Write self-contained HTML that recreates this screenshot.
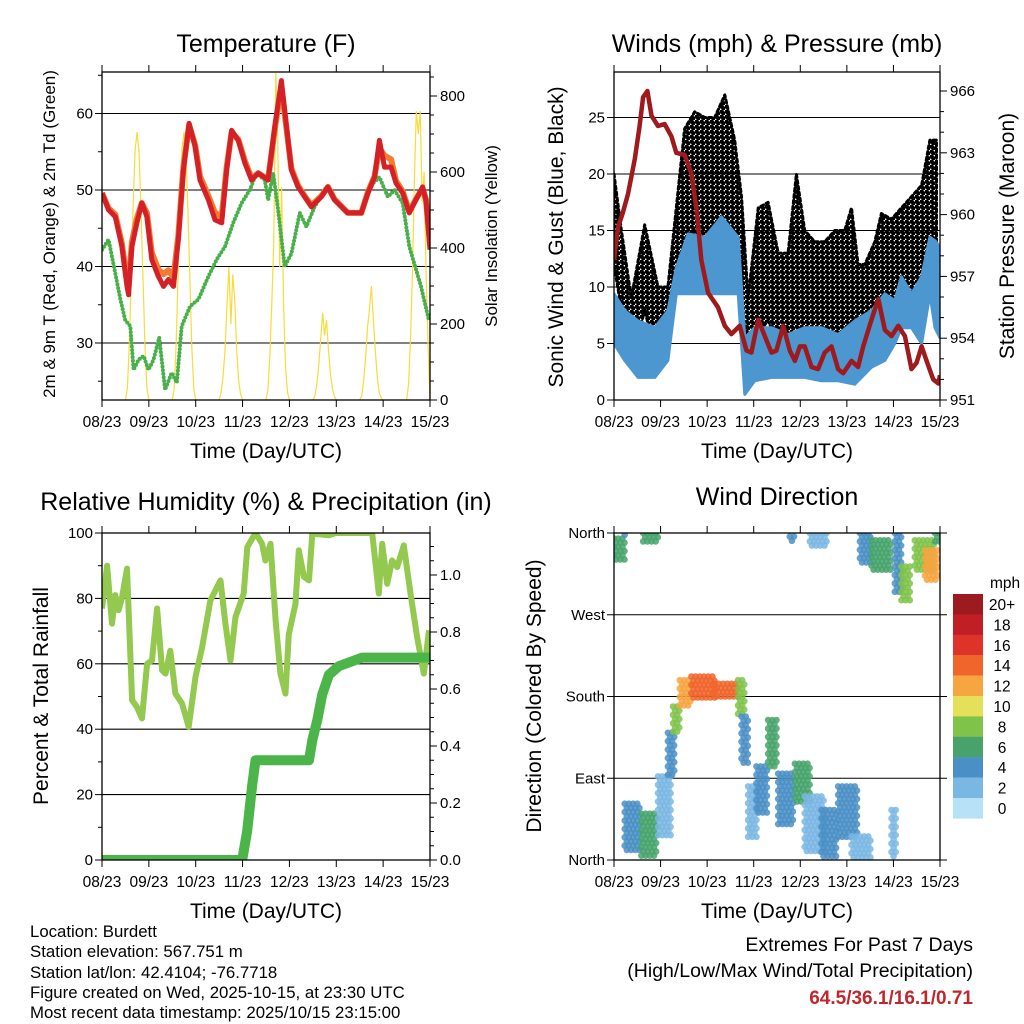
<!DOCTYPE html>
<html><head><meta charset="utf-8"><style>
body{margin:0;background:#fff;}
svg{display:block;font-family:"Liberation Sans",Arial,sans-serif;}
</style></head><body>
<svg id="chart" width="1024" height="1024" viewBox="0 0 1024 1024" xmlns="http://www.w3.org/2000/svg">
<defs>
<pattern id="gustdots" width="5" height="5" patternUnits="userSpaceOnUse">
<circle cx="1.25" cy="1.25" r="2.5" fill="#000"/>
<circle cx="3.75" cy="3.75" r="2.5" fill="#000"/>
</pattern>
</defs>
<rect width="1024" height="1024" fill="#fff"/>
<text x="266" y="52" font-size="25" text-anchor="middle">Temperature (F)</text>
<text x="777" y="52" font-size="25" text-anchor="middle">Winds (mph) &amp; Pressure (mb)</text>
<text x="266" y="510" font-size="25" text-anchor="middle">Relative Humidity (%) &amp; Precipitation (in)</text>
<text x="777" y="505" font-size="25" text-anchor="middle">Wind Direction</text>
<text x="266" y="458" font-size="21" text-anchor="middle">Time (Day/UTC)</text>
<text x="777" y="458" font-size="21" text-anchor="middle">Time (Day/UTC)</text>
<text x="266" y="918" font-size="21" text-anchor="middle">Time (Day/UTC)</text>
<text x="777" y="918" font-size="21" text-anchor="middle">Time (Day/UTC)</text>
<text transform="translate(55,234) rotate(-90)" font-size="17" text-anchor="middle">2m &amp; 9m T (Red, Orange) &amp; 2m Td (Green)</text>
<text transform="translate(497,236) rotate(-90)" font-size="17" text-anchor="middle">Solar Insolation (Yellow)</text>
<text transform="translate(563,237) rotate(-90)" font-size="21" text-anchor="middle">Sonic Wind &amp; Gust (Blue, Black)</text>
<text transform="translate(1014,236) rotate(-90)" font-size="21" text-anchor="middle">Station Pressure (Maroon)</text>
<text transform="translate(48,696) rotate(-90)" font-size="21" text-anchor="middle">Percent &amp; Total Rainfall</text>
<text transform="translate(541,696) rotate(-90)" font-size="21" text-anchor="middle">Direction (Colored By Speed)</text>
<g font-size="16.8">
<text x="30" y="937">Location: Burdett</text>
<text x="30" y="957">Station elevation: 567.751 m</text>
<text x="30" y="978">Station lat/lon: 42.4104; -76.7718</text>
<text x="30" y="998">Figure created on Wed, 2025-10-15, at 23:30 UTC</text>
<text x="30" y="1018">Most recent data timestamp: 2025/10/15 23:15:00</text>
</g>
<g font-size="19.5" text-anchor="end">
<text x="973" y="951">Extremes For Past 7 Days</text>
<text x="973" y="977">(High/Low/Max Wind/Total Precipitation)</text>
<text x="973" y="1004" fill="#c0272d" font-weight="bold" font-size="19">64.5/36.1/16.1/0.71</text>
</g>
</svg>
<script>
// ---------- DATA ----------
const xTickLabels = ["08/23","09/23","10/23","11/23","12/23","13/23","14/23","15/23"];
// Temperature panel
const tempHours = [0,3.4,6.8,10.2,12.8,13.6,15.3,17.9,20.4,23,25.5,28.9,31.5,34,36.6,39.1,41.7,44.6,47.7,50.2,54.5,57.9,61.3,63.8,66.4,69.8,73.2,76.6,80,85.1,88.5,91.9,94.5,97,100.4,103.8,107.2,112.3,115.7,119.1,125.9,132.8,136.2,139.6,142.1,144.7,148.1,150.6,154,157.4,160.8,164.2,165.9,168];
const temp2m = [49.6,47.4,46.5,42.6,37.4,36.3,42.6,45.7,48.3,46.5,40.9,38.7,37.4,38.3,37.4,43.5,52.6,58.7,55.7,51.3,48.7,46.1,45.7,52.6,57.8,56.5,53.5,51.3,52.2,51.3,58.3,64.3,58.3,52.6,50.4,49.1,47.8,49.1,50.4,48.7,47,47,49.6,51.7,56.5,53,53,50.9,49.6,47,48.7,50.4,48.7,42.2];
const temp9m = [49.6,47.6,46.8,43,38,37.6,43.2,46.3,48.3,47,41.8,39.6,39,39.5,38.6,44,53,58.5,55.9,51.8,49.2,47,46.5,52.9,57.5,56.6,53.8,51.5,52.2,51.4,58,63.5,58,52.8,50.6,49.2,48,49.2,50.4,48.8,47,47,49.7,51.8,55.5,54.5,54,51.2,49.8,47.2,48.8,50.2,48.8,43];
const dewHours = [0,3.4,6.8,9.4,11.9,14.5,16.2,18.7,21.3,23.8,26.4,29.3,32.3,35.7,38.3,40.8,45.1,49.4,54.5,58.7,63,67.2,71.5,75.7,79.1,83.4,85.1,87.7,90.2,93.6,97,101.3,104.7,108.9,114.9,119.1,125.9,132.8,137,142.1,146.4,149.8,154,157.4,163.4,167.6];
const dewpoint = [42.2,43.5,39.1,35.7,33,32.2,26.5,27.8,28.3,26.5,27.8,30.7,23.9,26.1,24.8,32.2,34.8,35.7,38.7,40.9,42.6,45.7,48.3,50,52.2,51.3,48.7,52.2,47.4,40,41.7,47,45.2,47.8,50.4,48.7,47,47,50.4,51.7,49.1,50,48.3,42.6,37.4,32.8];
const solarStartHour = 12; // first hourly value of each day
const solarDay0 = [0,30,150,330,520,660,705,650,500,320,140,30,0];
const solarDay1 = [0,30,150,330,520,660,705,650,500,320,140,30,0];
const solarDay2 = [0,20,60,130,250,350,200,330,260,130,50,15,0];
const solarDay3 = [0,30,120,260,420,860,690,350,560,250,90,20,0];
const solarDay4 = [0,10,40,90,160,230,170,210,130,70,30,10,0];
const solarDay5 = [0,10,50,110,190,240,300,210,130,60,20,5,0];
const solarDay6 = [0,40,160,330,580,760,700,760,520,600,330,150,0];
// Winds panel
const presHours = [0,2.1,4.6,7.2,10.7,13.2,15,17.2,19.3,22.7,26.1,29.6,32.1,36.4,39.9,42.6,45.0,48.5,53.6,57.1,60.5,64.8,68.3,70.8,74.3,77.7,81.1,83.7,87.2,90.6,93.2,95.8,98.3,101.8,105.2,108.6,112.1,115.5,118.1,122.4,125.8,128.4,132.7,136.2,139.6,143,146.5,149.9,153.3,155.9,158.5,161.1,164.5,167.1,168];
const pressure = [957.8,959.4,960.1,961,962.7,964.3,965.7,966,964.8,964.3,964.4,963.8,963,962.9,962,960.2,957.8,956.2,955.5,954.6,954.2,954.6,953.4,953.3,954.9,954.1,953.3,953.4,954.6,953.4,952.9,953.6,953.6,952.6,952.5,953.3,953.6,952.5,952.3,952.9,952.6,953.6,954.9,955.9,954.4,954.1,954.6,954.1,952.5,952.8,953.6,952.9,952,951.8,952.2];
const windHours = [0,5.5,12.4,21,27.8,32.1,38.2,46.8,55.4,64,67.4,72.5,81.1,89.7,98.3,106.9,115.5,124.1,132.7,139.6,144.7,148.1,153.3,158.5,162.8,165.4,168];
const windLo = [5,3.5,2,2,3.5,9.4,9.4,9.4,9.4,9.4,0.5,1.7,2,2,2,1.7,1.7,1.4,2.9,3.5,5,6.4,6.4,5,9.4,6.4,5.5];
const windHi = [9.4,7.9,7,6.4,7.9,11.7,14.7,14.4,16.2,14.4,5.5,6.4,6.4,5.8,6.4,6.4,5.8,7,7.9,9.4,8.8,10.9,9.4,10.9,14.4,14.1,13.5];
const gustHours = [0,3.8,8.9,15.8,22.7,27.8,32.1,36.4,41.6,46.8,51.9,57.1,62.2,65.7,69.1,74.3,79.4,84.6,89.7,94,98.3,103.5,108.6,113.8,118.9,122.4,125.8,129.3,134.4,137.8,143,148.1,153.3,158.5,162.8,166.2];
const gustLo = [12,8,3,8,3,4,10,13,15,14,15,15,13,8,5,6,7,5,6,5,6,6,6,6,6,5,4,5,6,7,8,8,9,9,12,10];
const gustHi = [20,15,9,15.5,10,10,17,24,25.5,25,25,27,23,18,9,17,17.5,13,13,20,15,14,14,15,15,17,12,12,14,16.5,16,17,18,19,23,23];
// RH panel
const rhHours = [0,2.6,5.1,6.8,8.5,10.3,12.8,15.4,17.9,20.5,23.1,25.6,28.2,30.8,32.5,35,37.6,41,44.4,47.9,51.3,55.5,60.7,63.2,65.8,68.4,72.6,74.4,78.6,82,83.7,86.3,88.9,91.4,94,95.7,99.1,100.8,103.4,106,107.7,116.2,119.6,138.4,141.8,143.5,146.1,148.6,151.2,154.6,158,161.4,164.8,167.5];
const rhValues = [76.9,90,72.3,81,76.4,80.4,89.1,48.9,46.8,43.3,60,61,76.9,58,57,64,50.9,47.9,40.7,56,65.2,79.4,85.5,72.3,61,74.3,81.5,95.7,100,96.7,91.6,96.7,73.3,57,50.9,69,78.4,94.7,86.6,85.5,99.8,99.3,100,100,81.5,96.7,84.5,91.6,89.6,96.2,81.5,68.2,57,70.2];
const precipHours = [0,71.8,74.3,76.9,78.6,106,107.7,110.2,112.8,116.2,121.3,133.3,168];
const precipTotal = [0,0,0.1,0.26,0.35,0.35,0.42,0.49,0.58,0.65,0.68,0.71,0.71];
// Wind direction clusters
const dirStartHour = [0,5.5,15,5.5,14.1,22.7,27.8,30.4,33.9,39.9,51.9,63.9,65.7,69.1,73.4,79.4,84.6,93.2,98.3,106.9,115.5,122.4,143,90.6,100.9,126.7,132.7,144.7,148.1,155,160.2,165.4];
const dirEndHour   = [6.4,5.5,22.7,14.1,22.7,29.6,31.3,33.9,39.9,51.9,63.9,67.4,70,74.3,79.4,84.6,93.2,101.8,108.6,115.5,125.8,132.7,145.6,93.2,110.4,132.7,143,148.1,153.3,165.4,167.1,168];
const dirLow  = [330,358,347,11,2,26,92,139,169,176,180,161,103,22,51,99,37,62,7,0,22,0,2,350,343,327,316,294,286,319,305,349];
const dirHigh = [354,358,360,62,51,92,140,169,198,202,194,198,158,81,103,154,95,106,70,55,81,26,55,356,360,360,352,360,323,352,341,360];
const dirSpeed = [7,4,6,4,6,3,4,9,12,14,15,8,4,3,4,7,4,6,3,4,5,2,3,4,3,4,6,4,9,8,12,7];
const speedLabels = ["20+","18","16","14","12","10","8","6","4","2","0"];
const speedColors = ["#9b1b1e","#c01f26","#de3328","#f0652a","#f7a540","#e5e05a","#7fc34a","#47a36b","#4a8fc6","#7ab7e3","#b6e1f7"];

// ---------- DRAWING ----------
const NS = "http://www.w3.org/2000/svg";
const svg = document.getElementById("chart");
function mk(tag, attrs, parent){ const e=document.createElementNS(NS,tag); for(const k in attrs) e.setAttribute(k,attrs[k]); (parent||svg).appendChild(e); return e; }
function grp(){ const g=document.createElementNS(NS,"g"); svg.appendChild(g); return g; }

const P1={x0:102,x1:430,y0:72,y1:400}, P2={x0:614,x1:940,y0:72,y1:400}, P3={x0:102,x1:430,y0:533,y1:860}, P4={x0:614,x1:940,y0:533,y1:860};
const xs = P => h => P.x0 + h/168*(P.x1-P.x0);
const yT = v => 190 - (v-50)*7.65;
const ySol = v => 400 - v*0.38;
const yW = v => 400 - v*11.3;
const yP = v => 400 - (v-951)*20.6;
const yRH = v => 860 - v*3.27;
const yPr = v => 860 - v*285;
const yD = v => 860 - v*0.9083;

function pathOf(hs, vs, fx, fy){ return hs.map((h,i)=>(i?"L":"M")+fx(h).toFixed(1)+","+fy(vs[i]).toFixed(1)).join(""); }

function axes(P, name, leftTicks, leftFn, leftLbl, gridVals, rightTicks, rightFn, rightLbl, minorL, minorR){
  const g=grp();
  
  
  gridVals.forEach(v=>{ const y=leftFn(v); mk("line",{x1:P.x0,x2:P.x1,y1:y,y2:y,stroke:"#000","stroke-width":1.1},g); });
  const cl=mk("clipPath",{id:name+"-clip"},g); mk("rect",{x:P.x0,y:P.y0,width:P.x1-P.x0,height:P.y1-P.y0},cl);
  xTickLabels.forEach((l,i)=>{ const x=xs(P)(i*24);
    mk("line",{x1:x,x2:x,y1:P.y1,y2:P.y1+7,stroke:"#000"},g);
    mk("line",{x1:x,x2:x,y1:P.y0,y2:P.y0-7,stroke:"#000"},g);
    const t=mk("text",{x:x,y:P.y1+27,"font-size":15.5,"text-anchor":"middle"},g); t.textContent=l;
    
    
  });
  leftTicks.forEach((v,i)=>{ const y=leftFn(v);
    mk("line",{x1:P.x0-7,x2:P.x0,y1:y,y2:y,stroke:"#000"},g);
    const t=mk("text",{x:P.x0-9,y:y+5,"font-size":15,"text-anchor":"end"},g); t.textContent=leftLbl[i];
    
    
  });
  (minorL||[]).forEach(v=>{ const y=leftFn(v); mk("line",{x1:P.x0-4,x2:P.x0,y1:y,y2:y,stroke:"#000"},g); });
  rightTicks.forEach((v,i)=>{ const y=rightFn(v);
    mk("line",{x1:P.x1,x2:P.x1+7,y1:y,y2:y,stroke:"#000"},g);
    if(rightLbl){ const t=mk("text",{x:P.x1+10,y:y+5,"font-size":15},g); t.textContent=rightLbl[i];
      
       }
  });
  (minorR||[]).forEach(v=>{ const y=rightFn(v); mk("line",{x1:P.x1,x2:P.x1+4,y1:y,y2:y,stroke:"#000"},g); });
  return g;
}
function frame(P,name){ const r=mk("rect",{x:P.x0,y:P.y0,width:P.x1-P.x0,height:P.y1-P.y0,fill:"none",stroke:"#000","stroke-width":1.3});
  
   }
function series(d, attrs, clip, dn){ const p=mk("path",Object.assign({d:d,fill:"none","clip-path":"url(#"+clip+")"},attrs));
  
   return p; }

// Panel 1
axes(P1,"temp",[30,40,50,60],yT,["30","40","50","60"],[30,40,50,60],[0,200,400,600,800],ySol,["0","200","400","600","800"],[25,35,45,55,65],[50,100,150,250,300,350,450,500,550,650,700,750,850]);
const fx1=xs(P1);
[solarDay0,solarDay1,solarDay2,solarDay3,solarDay4,solarDay5,solarDay6].forEach((arr,d)=>{
  const hs=arr.map((_,i)=>d*24+solarStartHour+i);
  series(pathOf(hs,arr,fx1,ySol),{stroke:"#f7dc3a","stroke-width":1.2},"temp-clip","solar-insolation-line");
});
series(pathOf(dewHours,dewpoint,fx1,yT),{stroke:"#48b04a","stroke-width":4,"stroke-dasharray":"0 3.6","stroke-linecap":"round"},"temp-clip","dewpoint-line");
series(pathOf(tempHours,temp9m,fx1,yT),{stroke:"#f47b2e","stroke-width":6,"stroke-linejoin":"round"},"temp-clip","temp-9m-line");
series(pathOf(tempHours,temp2m,fx1,yT),{stroke:"#d42127","stroke-width":5,"stroke-linejoin":"round"},"temp-clip","temp-2m-line");
frame(P1,"temp");

// Panel 2
axes(P2,"wind",[0,5,10,15,20,25],yW,["0","5","10","15","20","25"],[5,10,15,20,25],[951,954,957,960,963,966],yP,["951","954","957","960","963","966"],[],[952,953,955,956,958,959,961,962,964,965]);
const fx2=xs(P2);
{ const up=gustHours.map((h,i)=>fx2(h).toFixed(1)+","+yW(gustHi[i]).toFixed(1));
  const dn=gustHours.map((h,i)=>fx2(h).toFixed(1)+","+yW(gustLo[i]).toFixed(1)).reverse();
  const pg=mk("polygon",{points:up.concat(dn).join(" "),fill:"url(#gustdots)",stroke:"#000","stroke-width":3,"stroke-dasharray":"3 3","stroke-linecap":"round","stroke-linejoin":"round","clip-path":"url(#wind-clip)"});
  
  
}
{ const up=windHours.map((h,i)=>fx2(h).toFixed(1)+","+yW(windHi[i]).toFixed(1));
  const dn=windHours.map((h,i)=>fx2(h).toFixed(1)+","+yW(windLo[i]).toFixed(1)).reverse();
  const pg=mk("polygon",{points:up.concat(dn).join(" "),fill:"#4d97d1",stroke:"#4d97d1","stroke-width":3,"stroke-linejoin":"round","clip-path":"url(#wind-clip)"});
  
  
}
series(pathOf(presHours,pressure,fx2,yP),{stroke:"#9e1a1d","stroke-width":4.5,"stroke-linejoin":"round"},"wind-clip","pressure-line");
frame(P2,"wind");

// Panel 3
axes(P3,"rh",[0,20,40,60,80,100],yRH,["0","20","40","60","80","100"],[20,40,60,80],[0,0.2,0.4,0.6,0.8,1.0],yPr,["0.0","0.2","0.4","0.6","0.8","1.0"],[10,30,50,70,90],[0.05,0.1,0.15,0.25,0.3,0.35,0.45,0.5,0.55,0.65,0.7,0.75,0.85,0.9,0.95,1.05,1.1]);
const fx3=xs(P3);
series(pathOf(rhHours,rhValues,fx3,yRH),{stroke:"#92c94e","stroke-width":6,"stroke-linejoin":"round"},"rh-clip","relative-humidity-line");
series(pathOf(precipHours,precipTotal,fx3,yPr),{stroke:"#4bb54a","stroke-width":10,"stroke-linejoin":"round","stroke-linecap":"round"},"rh-clip","precipitation-line");
frame(P3,"rh");

// Panel 4
axes(P4,"dir",[0,90,180,270,360],yD,["North","East","South","West","North"],[90,180,270],[0,90,180,270,360],yD,null);
const fx4=xs(P4);
function speedColor(s){ const idx=Math.min(10,Math.floor(s/2)); return speedColors[10-idx]; }
dirStartHour.forEach((h0,i)=>{
  const xa=fx4(h0), xb=fx4(dirEndHour[i]), ya=yD(dirHigh[i]), yb=yD(dirLow[i]);
  const g=grp();
  
  
  let row=0;
  for(let y=ya; y<=yb+0.01; y+=4.2, row++){
    for(let x=xa+(row%2)*2.1; x<=xb+0.01; x+=4.2){
      mk("circle",{cx:x.toFixed(1),cy:y.toFixed(1),r:3.3,fill:speedColor(dirSpeed[i]),"fill-opacity":0.85,"clip-path":"url(#dir-clip)"},g);
    }
  }
});
frame(P4,"dir");

// Colorbar
{ const g=grp();
  
  
  const t=mk("text",{x:990,y:588,"font-size":15.5},g); t.textContent="mph";
  speedColors.forEach((c,i)=>{
    const y=594+i*20.4;
    const r=mk("rect",{x:953,y:y,width:30,height:20.6,fill:c},g);
    
    
    const l=mk("text",{x:1002,y:y+16,"font-size":15.5,"text-anchor":"middle"},g); l.textContent=speedLabels[i];
    
    
  });
}
</script>
</body></html>
